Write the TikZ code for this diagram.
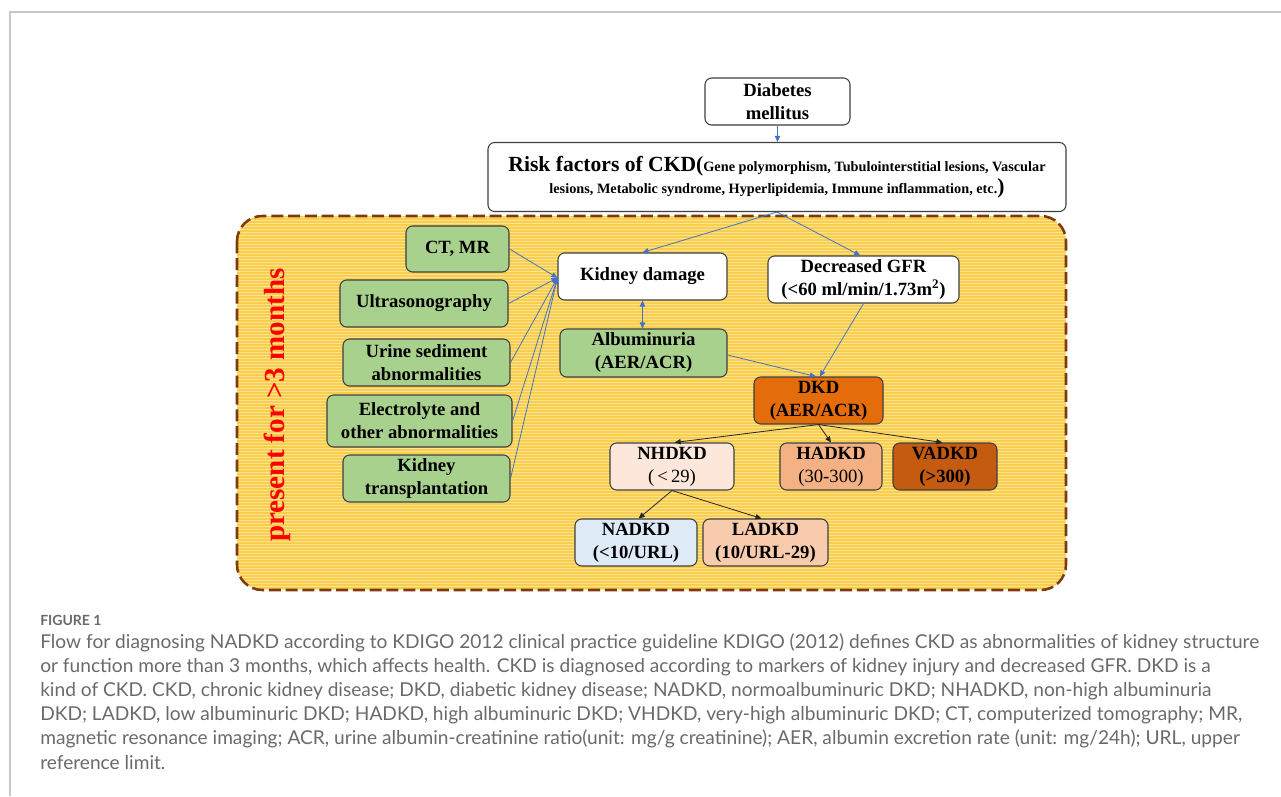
\documentclass[tikz,border=0pt]{standalone}
\usepackage{fontspec}
\setmainfont{Liberation Serif}
\newfontfamily\capfont{Lato}
\usetikzlibrary{arrows.meta}
\definecolor{framecol}{HTML}{C8C8C8}
\definecolor{capcol}{HTML}{6A6A6A}
\definecolor{yelbase}{HTML}{F8CE4C}
\definecolor{yelline}{HTML}{FCE393}
\definecolor{brown}{HTML}{7F3A0C}
\definecolor{boxline}{HTML}{3F3F3F}
\definecolor{grn}{HTML}{A9D18E}
\definecolor{dkdcol}{HTML}{E46C0A}
\definecolor{nhcol}{HTML}{FCE7DA}
\definecolor{hacol}{HTML}{F4B183}
\definecolor{vacol}{HTML}{C55A11}
\definecolor{nacol}{HTML}{DEEBF7}
\definecolor{lacol}{HTML}{F8CBAD}
\definecolor{arrblue}{HTML}{4472C4}
\tikzset{
  box/.style={draw=boxline, line width=0.8pt, rounded corners=5pt, align=center, inner sep=0pt,
    font=\bfseries\fontsize{14}{17.25}\selectfont},
  sz/.style 2 args={minimum width=#1*0.75pt, minimum height=#2*0.75pt},
  barr/.style={draw=arrblue, line width=0.6pt, -{Triangle[length=4.5pt,width=4pt]}},
  karr/.style={draw=black!85, line width=0.6pt, -{Triangle[length=4.5pt,width=4pt]}},
  capline/.style={anchor=west, inner sep=0pt, text=capcol, font=\capfont\fontsize{14.35}{16}\selectfont}
}
\begin{document}
\begin{tikzpicture}[x=0.75pt,y=-0.75pt]
\useasboundingbox (0,0) rectangle (1281,796);
% page frame
\draw[framecol, line width=1.1pt] (10,796) -- (10,12) -- (1281,12);
% yellow region
\begin{scope}
\clip[rounded corners=19pt] (237,216) rectangle (1066,590);
\fill[yelbase] (237,216) rectangle (1066,590);
\foreach \yy in {217.5,220.5,...,590} {\draw[yelline, line width=0.8pt] (237,\yy) -- (1066,\yy);}
\end{scope}
\draw[brown, line width=1.9pt, rounded corners=19pt, dash pattern=on 9pt off 3.6pt] (237,216) rectangle (1066,590);
\node[rotate=90, text=red, font=\bfseries\fontsize{21.8}{24}\selectfont, inner sep=0pt] (present) at (277,405) {present for >3 months};
% boxes
\node[box, fill=white, sz={145}{47}] (dm) at (777.5,101.5) {Diabetes\\mellitus};
\node[box, fill=white, sz={578}{69}, font=\bfseries\fontsize{10.7}{16.5}\selectfont] (risk) at (777,177)
  {{\fontsize{16.2}{16.5}\selectfont Risk factors of CKD(}Gene polymorphism, Tubulointerstitial lesions, Vascular\\
   lesions, Metabolic syndrome, Hyperlipidemia, Immune inflammation, etc.{\fontsize{16.2}{16.5}\selectfont)}};
\node[box, fill=grn, sz={103}{46}] (ct) at (457.5,249) {CT, MR};
\node[box, fill=grn, sz={168}{47}] (us) at (424,303.5) {Ultrasonography};
\node[box, fill=grn, sz={167}{47}] (urine) at (426.5,362.5) {Urine sediment\\abnormalities};
\node[box, fill=grn, sz={185}{52}] (elec) at (419.5,421) {Electrolyte and\\other abnormalities};
\node[box, fill=grn, sz={167}{47}] (ktx) at (426.5,478.5) {Kidney\\transplantation};
\node[box, fill=white, sz={169}{47}] (kd) at (642.5,276.5) {Kidney damage};
\node[box, fill=white, sz={191}{47}] (gfr) at (863.5,279.5) {Decreased GFR\\(<60 ml/min/1.73m\textsuperscript{2})};
\node[box, fill=grn, sz={167}{48}] (alb) at (643.5,353) {Albuminuria\\(AER/ACR)};
\node[box, fill=dkdcol, sz={129}{47}] (dkd) at (818.5,400.5) {DKD\\(AER/ACR)};
\node[box, fill=nhcol, sz={124}{47}] (nh) at (672,466.5) {NHDKD\\{\mdseries(\,<\,29)}};
\node[box, fill=hacol, sz={102}{47}] (ha) at (831,466.5) {HADKD\\{\mdseries(30-300)}};
\node[box, fill=vacol, sz={104}{47}] (va) at (945,466.5) {VADKD\\(>300)};
\node[box, fill=nacol, sz={122}{47}] (na) at (636,542.5) {NADKD\\(<10/URL)};
\node[box, fill=lacol, sz={125}{47}] (la) at (765.5,542.5) {LADKD\\(10/URL-29)};
% connectors
\draw[barr] (dm.south) -- (risk.north -| dm.south);
\draw[barr] (risk.south) -- (kd.north);
\draw[barr] (risk.south) -- ([xshift=-2.5pt]gfr.north);
\foreach \n in {ct,us,urine,elec,ktx} {\draw[barr] (\n.east) -- ([yshift=-1pt]kd.west);}
\draw[draw=arrblue, line width=0.6pt, {Triangle[length=4.5pt,width=4pt]}-{Triangle[length=4.5pt,width=4pt]}] (kd.south) -- (alb.north -| kd.south);
\draw[barr] ([yshift=-1.5pt]alb.east) -- ([xshift=-2pt]dkd.north);
\draw[barr] (gfr.south) -- ([xshift=1pt]dkd.north);
\draw[karr] (dkd.south) -- ([xshift=2pt]nh.north);
\draw[karr] (dkd.south) -- (ha.north);
\draw[karr] (dkd.south) -- ([xshift=-2pt]va.north);
\draw[karr] (nh.south) -- ([xshift=2pt]na.north);
\draw[karr] (nh.south) -- ([xshift=-3pt]la.north);
% caption
\node[capline, font=\capfont\bfseries\fontsize{10.5}{12}\selectfont] (fig) at (40,620) {FIGURE 1};
\node[capline] (c1) at (40,643) {Flow for diagnosing NADKD according to KDIGO 2012 clinical practice guideline KDIGO (2012) defines CKD as abnormalities of kidney structure};
\node[capline] (c2) at (40,667) {or function more than 3 months, which affects health. CKD is diagnosed according to markers of kidney injury and decreased GFR. DKD is a};
\node[capline] (c3) at (40,691) {kind of CKD. CKD, chronic kidney disease; DKD, diabetic kidney disease; NADKD, normoalbuminuric DKD; NHADKD, non-high albuminuria};
\node[capline] (c4) at (40,715) {DKD; LADKD, low albuminuric DKD; HADKD, high albuminuric DKD; VHDKD, very-high albuminuric DKD; CT, computerized tomography; MR,};
\node[capline] (c5) at (40,739) {magnetic resonance imaging; ACR, urine albumin-creatinine ratio(unit: mg/g creatinine); AER, albumin excretion rate (unit: mg/24h); URL, upper};
\node[capline] (c6) at (40,763) {reference limit.};
\end{tikzpicture}
\end{document}
